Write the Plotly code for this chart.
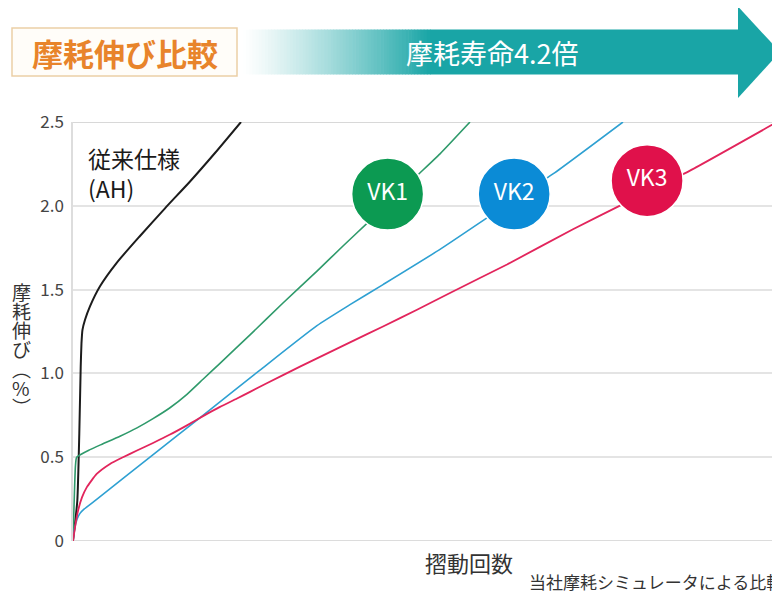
import plotly.graph_objects as go

# ---------------- data ----------------
ah_x = [0, 0.61, 0.89, 1.09, 1.20, 1.34, 1.70, 2.40, 3.82, 6.18, 9.48, 13.01, 16.55, 20.08, 23.76]
ah_y = [0, 0.24, 0.64, 1.04, 1.18, 1.26, 1.32, 1.40, 1.52, 1.66, 1.82, 1.985, 2.145, 2.315, 2.50]

vk1_x = [0, 0.21, 0.35, 0.52, 2.40, 4.24, 6.65, 9.05, 11.32, 13.72, 16.12, 18.39, 20.79, 25.04,
         29.70, 34.51, 38.19, 41.58, 48.66, 51.91, 56.15]
vk1_y = [0, 0.30, 0.45, 0.50, 0.545, 0.58, 0.625, 0.675, 0.73, 0.795, 0.875, 0.965, 1.06, 1.23,
         1.42, 1.61, 1.76, 1.895, 2.18, 2.31, 2.50]

vk2_x = [0, 0.21, 0.57, 0.99, 1.56, 3.39, 10.89, 18.39, 26.45, 34.51, 39.18, 43.85, 51.91,
         58.98, 67.89, 77.79]
vk2_y = [0, 0.07, 0.13, 0.165, 0.19, 0.25, 0.50, 0.75, 1.02, 1.285, 1.41, 1.53, 1.74,
         1.94, 2.19, 2.50]

vk3_x = [0, 0.28, 0.71, 1.27, 1.94, 3.35, 5.23, 7.07, 9.05, 11.32, 13.72, 16.12, 18.39, 20.79,
         23.20, 25.04, 29.70, 34.51, 39.18, 43.85, 48.66, 53.32, 61.39, 70.72, 77.79,
         87.27, 99.58]
vk3_y = [0, 0.08, 0.18, 0.26, 0.32, 0.40, 0.46, 0.50, 0.54, 0.585, 0.635, 0.69, 0.745, 0.80,
         0.85, 0.89, 0.99, 1.09, 1.185, 1.28, 1.38, 1.48, 1.65, 1.86, 2.01,
         2.21, 2.50]

badge_labels = ["VK1", "VK2", "VK3"]
badge_x = [44.5, 62.4, 81.2]
badge_y = [2.07, 2.07, 2.15]
badge_colors = ["#0c9a52", "#0b8bd6", "#e0114b"]

y_ticks = [0, 0.5, 1.0, 1.5, 2.0, 2.5]
y_tick_text = ["0", "0.5", "1.0", "1.5", "2.0", "2.5"]

title_text = "摩耗伸び比較"
arrow_text = "摩耗寿命4.2倍"
ah_label = "従来仕様<br>(AH)"
y_title_chars = ["摩", "耗", "伸", "び", "︵", "%", "︶"]
x_title = "摺動回数"
footnote = "当社摩耗シミュレータによる比較"

FONT = "Noto Sans CJK JP"

# ---------------- layout geometry ----------------
# the page body has an 8px margin, so the figure is drawn 8px smaller
W, H = 772, 584
ML, MR, MT, MB = 65, 0, 114, 51
PW, PH = W - ML - MR, H - MT - MB
OFF = 8


def px(x):  # page pixel -> paper
    return (x - OFF - ML) / PW


def py(y):
    return (H - MB - (y - OFF)) / PH


fig = go.Figure()

line_styles = [
    (ah_x, ah_y, "#1c1c1c", 2.0),
    (vk1_x, vk1_y, "#2f9a6b", 1.6),
    (vk2_x, vk2_y, "#2ea0d2", 1.6),
    (vk3_x, vk3_y, "#e2255c", 1.8),
]
for xs, ys, c, w in line_styles:
    fig.add_trace(go.Scatter(x=xs, y=ys, mode="lines",
                             line=dict(color=c, width=w, shape="spline", smoothing=0.5),
                             hoverinfo="skip", showlegend=False, cliponaxis=True))

fig.add_trace(go.Scatter(
    x=badge_x, y=badge_y, mode="markers+text", text=badge_labels,
    textposition="middle center",
    textfont=dict(color="white", size=23, family=FONT),
    marker=dict(size=72, color=badge_colors, line=dict(color="white", width=1.5)),
    hoverinfo="skip", showlegend=False, cliponaxis=False))

shapes = []
# header box
shapes.append(dict(type="rect", xref="paper", yref="paper",
                   x0=px(12), x1=px(237), y0=py(76), y1=py(28),
                   fillcolor="#fffdf9", line=dict(color="#ebcfa6", width=1.5), layer="above"))

# gradient arrow body
teal = (25, 165, 166)
g0, g1 = 243, 430
n = 60
for i in range(n):
    t = (i + 0.5) / n
    a = t ** 1.2
    r = round(255 + (teal[0] - 255) * a)
    g = round(255 + (teal[1] - 255) * a)
    b = round(255 + (teal[2] - 255) * a)
    xa = g0 + (g1 - g0) * i / n
    xb = g0 + (g1 - g0) * (i + 1) / n + 0.6
    shapes.append(dict(type="rect", xref="paper", yref="paper",
                       x0=px(xa), x1=px(xb), y0=py(74.5), y1=py(29.5),
                       fillcolor=f"rgb({r},{g},{b})", line=dict(width=0), layer="above"))
shapes.append(dict(type="rect", xref="paper", yref="paper",
                   x0=px(g1), x1=px(739), y0=py(74.5), y1=py(29.5),
                   fillcolor="rgb(25,165,166)", line=dict(width=0), layer="above"))
shapes.append(dict(type="path", xref="paper", yref="paper",
                   path=f"M {px(738)} {py(6.5)} L {px(780)} {py(52)} L {px(738)} {py(98)} Z",
                   fillcolor="rgb(25,165,166)", line=dict(width=0), layer="above"))

annotations = []
annotations.append(dict(xref="paper", yref="paper", x=px(124.5), y=py(52.5),
                        text=f"<b>{title_text}</b>", showarrow=False,
                        font=dict(family=FONT, size=31, color="#e8842b"),
                        xanchor="center", yanchor="middle"))
annotations.append(dict(xref="paper", yref="paper", x=px(492), y=py(52),
                        text=arrow_text, showarrow=False,
                        font=dict(family=FONT, size=27, color="white"),
                        xanchor="center", yanchor="middle"))
annotations.append(dict(xref="x", yref="y", x=1.8, y=2.40,
                        text=ah_label, showarrow=False, align="left",
                        font=dict(family=FONT, size=23, color="#1a1a1a"),
                        xanchor="left", yanchor="top"))
for i, ch in enumerate(y_title_chars):
    annotations.append(dict(xref="paper", yref="paper", x=px(21), y=py(291 + 19.3 * i),
                            text=ch, showarrow=False, borderpad=0,
                            font=dict(family=FONT, size=19, color="#333333"),
                            xanchor="center", yanchor="middle"))
annotations.append(dict(xref="paper", yref="paper", x=px(469), y=py(562),
                        text=x_title, showarrow=False,
                        font=dict(family=FONT, size=22, color="#333333"),
                        xanchor="center", yanchor="middle"))
annotations.append(dict(xref="paper", yref="paper", x=px(527), y=py(581),
                        text=footnote, showarrow=False,
                        font=dict(family=FONT, size=17, color="#333333"),
                        xanchor="left", yanchor="middle"))

fig.update_layout(
    width=W, height=H,
    margin=dict(l=ML, r=MR, t=MT, b=MB, pad=0),
    paper_bgcolor="white", plot_bgcolor="white",
    shapes=shapes, annotations=annotations,
    showlegend=False,
    xaxis=dict(range=[0, 100], showgrid=False, zeroline=False, showticklabels=False,
               showline=False, fixedrange=True),
    yaxis=dict(range=[0, 2.5], tickvals=y_ticks, ticktext=y_tick_text,
               showgrid=True, gridcolor="#e4e4e4", gridwidth=1.5,
               zeroline=False, showline=True, linecolor="#dddddd", linewidth=1.5,
               ticks="outside", ticklen=4, tickcolor="rgba(0,0,0,0)",
               tickfont=dict(family=FONT, size=17, color="#444444"),
               fixedrange=True),
)
fig.add_hline(y=0, line=dict(color="#dcdcdc", width=2), layer="below")
fig.add_hline(y=2.5, line=dict(color="#d8d8d8", width=2), layer="below")

fig.write_html("out.html")
